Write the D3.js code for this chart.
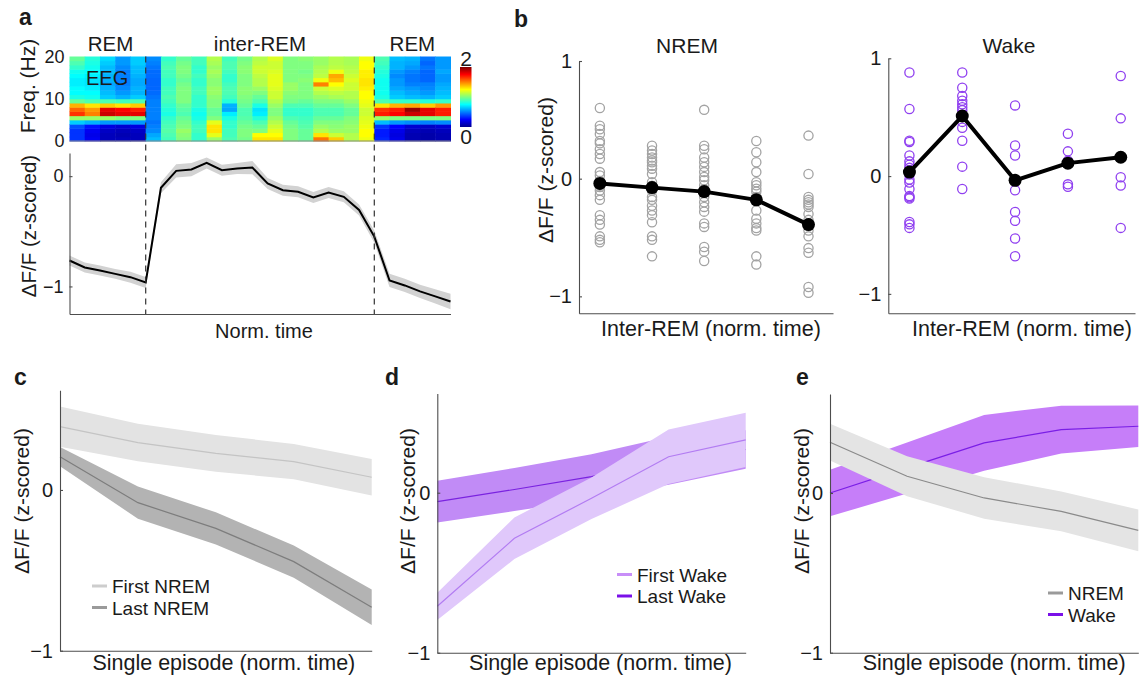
<!DOCTYPE html>
<html><head><meta charset="utf-8">
<script src="https://cdn.jsdelivr.net/npm/d3@7"></script>
<style>
body{margin:0;background:#fff}
svg{display:block}
text{font-family:"Liberation Sans",Arial,Helvetica,sans-serif;fill:#1a1a1a}
</style>
</head><body>
<svg id="fig" width="1142" height="683"></svg>
<script>
// ================= DATA =================
// Panel a: EEG spectrogram, 25 time bins x 20 frequency rows (0-20 Hz, 1 Hz each), bottom row first
const heatFreqTicks = [0, 10, 20];
const heatColorTicks = [0, 2];
const heatColumns = [
  [0.35,0.35,0.35,0.4,0.65,1.05,1.65,1.55,1.4,0.95,0.8,0.75,0.75,0.72,0.72,0.75,0.78,0.85,0.9,0.95],
  [0.22,0.2,0.22,0.28,0.6,1.05,1.5,1.45,1.3,0.9,0.78,0.75,0.72,0.7,0.7,0.72,0.75,0.78,0.8,0.82],
  [0.1,0.1,0.12,0.18,0.55,1.05,1.85,1.8,1.35,0.9,0.65,0.62,0.6,0.58,0.6,0.6,0.62,0.62,0.65,0.68],
  [0.1,0.08,0.1,0.15,0.55,1.0,1.8,1.75,1.3,0.88,0.6,0.55,0.52,0.5,0.5,0.5,0.5,0.52,0.55,0.55],
  [0.1,0.1,0.12,0.18,0.55,1.0,1.8,1.7,1.35,0.9,0.65,0.6,0.6,0.58,0.58,0.6,0.62,0.62,0.65,0.65],
  [0.62,0.58,0.52,0.5,0.48,0.5,0.5,0.5,0.5,0.5,0.48,0.46,0.45,0.45,0.45,0.46,0.46,0.48,0.5,0.52],
  [0.88,0.9,0.92,0.9,0.88,0.85,0.8,0.82,0.85,0.88,0.9,0.88,0.88,0.85,0.85,0.88,0.88,0.9,0.88,0.85],
  [1.0,1.02,1.05,1.0,0.98,0.95,0.9,0.92,0.95,1.0,1.0,1.0,1.0,0.98,0.95,0.98,1.0,1.0,0.98,0.95],
  [0.85,0.85,0.88,0.88,0.85,0.8,0.78,0.8,0.85,0.85,0.85,0.88,0.88,0.85,0.85,0.88,0.85,0.85,0.88,0.88],
  [1.05,1.2,1.3,1.3,1.2,1.0,0.95,0.95,1.0,1.0,1.02,1.05,1.05,1.02,1.02,1.05,1.08,1.05,1.08,1.1],
  [0.9,0.88,0.88,0.85,0.85,0.8,0.72,0.58,0.6,0.82,0.88,0.9,0.9,0.88,0.85,0.85,0.88,0.9,0.9,0.88],
  [0.98,1.0,1.0,0.98,0.95,0.92,0.9,0.9,0.95,0.98,1.0,1.02,1.02,1.0,1.0,1.0,1.02,1.02,1.0,0.98],
  [1.3,1.25,1.0,0.95,0.9,0.82,0.72,0.7,0.8,0.9,0.95,1.0,1.05,1.1,1.1,1.12,1.15,1.15,1.12,1.1],
  [1.3,1.25,1.2,1.15,1.1,1.05,1.0,1.0,1.05,1.1,1.15,1.15,1.18,1.2,1.2,1.2,1.18,1.15,1.15,1.18],
  [1.0,1.0,1.0,0.98,0.95,0.9,0.85,0.85,0.9,0.98,1.0,1.02,1.05,1.05,1.0,1.0,1.0,1.0,1.0,1.0],
  [0.95,0.95,0.95,0.92,0.9,0.88,0.85,0.85,0.9,0.95,1.0,1.0,1.0,1.0,1.02,1.0,0.98,1.0,1.0,1.02],
  [1.52,1.3,1.1,1.05,1.0,0.95,0.9,0.9,0.95,1.0,1.05,1.1,1.15,1.5,1.22,1.12,1.1,1.08,1.05,1.05],
  [1.35,1.15,1.05,1.02,1.0,0.95,0.9,0.9,0.95,1.0,1.08,1.12,1.18,1.25,1.38,1.42,1.22,1.12,1.1,1.1],
  [1.1,1.1,1.05,1.05,1.02,1.0,0.95,0.95,1.0,1.05,1.1,1.1,1.15,1.15,1.18,1.15,1.12,1.1,1.08,1.08],
  [1.22,1.25,1.25,1.22,1.2,1.18,1.15,1.15,1.2,1.22,1.25,1.25,1.28,1.3,1.3,1.28,1.28,1.25,1.25,1.22],
  [0.32,0.3,0.3,0.35,0.62,1.05,1.7,1.65,1.3,0.9,0.8,0.78,0.78,0.78,0.78,0.8,0.82,0.85,0.88,0.9],
  [0.2,0.18,0.2,0.25,0.55,1.0,1.75,1.7,1.4,0.85,0.65,0.62,0.58,0.55,0.55,0.52,0.55,0.6,0.6,0.62],
  [0.08,0.08,0.1,0.15,0.52,1.0,1.85,1.95,1.42,0.85,0.62,0.58,0.55,0.5,0.48,0.48,0.5,0.55,0.58,0.6],
  [0.06,0.06,0.08,0.12,0.5,1.0,1.8,1.8,1.35,0.82,0.6,0.55,0.52,0.5,0.45,0.45,0.45,0.48,0.45,0.48],
  [0.08,0.08,0.1,0.15,0.52,1.0,1.7,1.7,1.45,0.85,0.65,0.62,0.6,0.58,0.55,0.55,0.58,0.55,0.55,0.55]
];
const epochLabels = ["REM", "inter-REM", "REM"];
const epochBounds = [0, 5, 20, 25];
const traceMean = [-0.765,-0.828,-0.855,-0.886,-0.916,-0.964,-0.105,0.048,0.060,0.120,0.054,0.069,0.078,-0.066,-0.127,-0.142,-0.193,-0.148,-0.187,-0.307,-0.548,-0.946,-0.991,-1.045,-1.090,-1.136];
const traceSem  = [0.045,0.045,0.045,0.045,0.05,0.05,0.05,0.06,0.06,0.05,0.05,0.05,0.06,0.05,0.05,0.05,0.05,0.05,0.05,0.05,0.055,0.06,0.06,0.06,0.065,0.07];
const traceTicks = [-1, 0];

// Panel b: inter-REM bins
const interRemBins = [1, 2, 3, 4, 5];
const bTicks = [-1, 0, 1];
const nremMeans = [-0.04, -0.076, -0.11, -0.18, -0.39];
const nremPoints = [
  [0.60,0.45,0.42,0.38,0.32,0.30,0.25,0.21,0.17,0.056,0.028,-0.02,-0.05,-0.07,-0.10,-0.14,-0.18,-0.31,-0.35,-0.39,-0.49,-0.52,-0.54],
  [0.28,0.24,0.21,0.18,0.155,0.14,0.11,0.085,0.04,-0.03,-0.06,-0.10,-0.155,-0.18,-0.23,-0.27,-0.31,-0.37,-0.49,-0.52,-0.66],
  [0.585,0.28,0.25,0.18,0.14,0.10,0.056,0.014,-0.014,-0.056,-0.09,-0.155,-0.20,-0.24,-0.28,-0.38,-0.41,-0.58,-0.62,-0.70],
  [0.32,0.225,0.14,0.056,-0.03,-0.056,-0.085,-0.11,-0.155,-0.27,-0.34,-0.38,-0.42,-0.44,-0.66,-0.73],
  [0.366,0.04,-0.155,-0.18,-0.20,-0.22,-0.24,-0.30,-0.35,-0.44,-0.49,-0.59,-0.63,-0.92,-0.97]
];
const wakeMeans = [0.034, 0.51, -0.036, 0.11, 0.16];
const wakePoints = [
  [0.88,0.57,0.30,0.29,0.175,0.125,0.097,0.07,0.014,-0.03,-0.055,-0.11,-0.17,-0.18,-0.19,-0.39,-0.41,-0.44],
  [0.88,0.75,0.68,0.64,0.61,0.585,0.56,0.52,0.46,0.41,0.30,0.08,-0.11],
  [0.60,0.26,0.175,-0.12,-0.305,-0.38,-0.53,-0.68],
  [0.36,0.21,0.13,-0.07,-0.09],
  [0.85,0.49,-0.01,-0.08,-0.44]
];

// Panels c-e: single-episode profiles (5 normalized time bins)
const episodeBins = [1, 2, 3, 4, 5];
const episodeTicks = [-1, 0];
const firstNremMean = [0.394, 0.295, 0.228, 0.176, 0.079];
const firstNremSem  = [0.125, 0.117, 0.114, 0.11, 0.114];
const lastNremMean  = [0.207, -0.079, -0.239, -0.446, -0.73];
const lastNremSem   = [0.06, 0.10, 0.10, 0.10, 0.11];
const firstWakeMean = [-0.71, -0.285, -0.035, 0.225, 0.33];
const firstWakeSem  = [0.085, 0.13, 0.13, 0.17, 0.17];
const lastWakeMean  = [-0.056, 0.02, 0.10, 0.20, 0.27];
const lastWakeSem   = [0.13, 0.135, 0.14, 0.15, 0.12];
const nremEpMean = [0.318, 0.105, -0.031, -0.115, -0.234];
const nremEpSem  = [0.115, 0.125, 0.13, 0.125, 0.13];
const wakeEpMean = [0.0, 0.157, 0.314, 0.397, 0.418];
const wakeEpSem  = [0.146, 0.16, 0.175, 0.15, 0.13];

// ================= DRAWING =================
const svg = d3.select("#fig");
const FONT = '"Liberation Sans", Arial, Helvetica, sans-serif';
const fmt = v => v < 0 ? "\u2212" + Math.abs(v) : String(v);
const AX = "#4d4d4d";

function styleAxis(g, size) {
  g.attr("font-size", null).attr("font-family", null);
  g.selectAll(".domain").attr("stroke", AX).attr("stroke-width", 1.1);
  g.selectAll(".tick line").attr("stroke", AX).attr("stroke-width", 1.1);
  g.selectAll(".tick text").style("font-size", size + "px").style("font-family", FONT).attr("fill", "#222");
}
function yLabel(x, yc, txt, size) {
  svg.append("text").attr("transform", `translate(${x},${yc}) rotate(-90)`)
    .attr("text-anchor", "middle").style("font-size", size + "px").text(txt);
}
function text(x, y, txt, size, anchor, extra) {
  const t = svg.append("text").attr("x", x).attr("y", y).attr("text-anchor", anchor || "middle")
    .style("font-size", size + "px").text(txt);
  if (extra) extra(t);
  return t;
}
const panelLetter = (x, y, l) => text(x, y, l, 23, "start", t => t.style("font-weight", "bold").attr("fill", "#000"));

// ---------- Panel a ----------
panelLetter(19, 25, "a");
const xA = d3.scaleLinear().domain([0, heatColumns.length]).range([69.5, 450.5]);
const yF = d3.scaleLinear().domain([0, heatColumns[0].length]).range([141, 56.5]);
const jetStops = [0, 0.25, 0.75, 1.25, 1.75, 2];
const jetCols = ["#00008f", "#0000ff", "#00ffff", "#ffff00", "#ff0000", "#800000"];
const jet = d3.scaleLinear().domain(jetStops).range(jetCols).clamp(true);

const cells = heatColumns.flatMap((col, c) => col.map((v, r) => ({c, r, v})));
svg.append("g").selectAll("rect").data(cells).join("rect")
  .attr("x", d => xA(d.c)).attr("y", d => yF(d.r + 1))
  .attr("width", xA(1) - xA(0) + 0.5).attr("height", yF(0) - yF(1) + 0.5)
  .attr("fill", d => jet(d.v));
svg.append("line").attr("x1", xA(0)).attr("x2", xA(25)).attr("y1", yF(0)).attr("y2", yF(0))
  .attr("stroke", "#888").attr("stroke-width", 1);

const gHF = svg.append("g").attr("transform", `translate(${xA(0)},0)`)
  .call(d3.axisLeft(yF).tickValues(heatFreqTicks).tickSize(0).tickPadding(5));
gHF.select(".domain").remove();
styleAxis(gHF, 18);
yLabel(35, 86, "Freq. (Hz)", 21);
text(86, 85, "EEG", 20, "start", t => t.attr("fill", "#111"));

epochLabels.forEach((l, i) => {
  text(xA((epochBounds[i] + epochBounds[i + 1]) / 2) + (i === 0 ? 3 : 0), 51, l, 20.5);
});

// colorbar
const cb = d3.scaleLinear().domain([0, 2]).range([127, 67]);
const grad = svg.append("defs").append("linearGradient").attr("id", "jetgrad")
  .attr("x1", 0).attr("x2", 0).attr("y1", 1).attr("y2", 0);
grad.selectAll("stop").data(jetStops).join("stop")
  .attr("offset", d => d / 2).attr("stop-color", d => jet(d));
svg.append("rect").attr("x", 460).attr("y", cb(2)).attr("width", 11.5).attr("height", cb(0) - cb(2))
  .attr("fill", "url(#jetgrad)");
heatColorTicks.forEach(v => text(466, v === 2 ? cb(v) - 1 : cb(v) + 17, String(v), 21));

// trace
const yA = d3.scaleLinear().domain([-1.25, 0.21]).range([314, 153]);
const areaA = d3.area().x((d, i) => xA(i)).y0((d, i) => yA(d - traceSem[i])).y1((d, i) => yA(d + traceSem[i]));
svg.append("path").datum(traceMean).attr("d", areaA).attr("fill", "#d2d2d2");
svg.append("path").datum(traceMean).attr("d", d3.line().x((d, i) => xA(i)).y(d => yA(d)))
  .attr("fill", "none").attr("stroke", "#000").attr("stroke-width", 2);
const gAy = svg.append("g").attr("transform", `translate(${xA(0)},0)`)
  .call(d3.axisLeft(yA).tickValues(traceTicks).tickFormat(fmt).tickSizeInner(-3).tickSizeOuter(0).tickPadding(6));
styleAxis(gAy, 18);
const gAx = svg.append("g").attr("transform", `translate(0,${yA.range()[0]})`)
  .call(d3.axisBottom(xA).tickValues([]).tickSizeOuter(0));
styleAxis(gAx, 18);
// REM boundaries
[epochBounds[1], epochBounds[2]].forEach(b => {
  svg.append("line").attr("x1", xA(b)).attr("x2", xA(b)).attr("y1", yF(20)).attr("y2", yA.range()[0])
    .attr("stroke", "#333").attr("stroke-width", 1.2).attr("stroke-dasharray", "6,5");
});
yLabel(36, 226, "\u0394F/F (z-scored)", 20.5);
text(xA(12.5) + 4, 338, "Norm. time", 20);

// ---------- Panel b ----------
panelLetter(514, 27, "b");
function scatterPanel(cfg) {
  const x = d3.scaleLinear().domain(cfg.xd).range(cfg.xr);
  const y = d3.scaleLinear().domain(cfg.yd).range(cfg.yr);
  const g = svg.append("g");
  const pts = cfg.points.flatMap((col, i) => col.map(v => ({bin: interRemBins[i], v})));
  g.selectAll("circle.pt").data(pts).join("circle").attr("class", "pt")
    .attr("cx", d => x(d.bin)).attr("cy", d => y(d.v)).attr("r", 4.6)
    .attr("fill", "none").attr("stroke", cfg.color).attr("stroke-width", 1.3);
  g.append("path").datum(cfg.means).attr("d", d3.line().x((d, i) => x(interRemBins[i])).y(d => y(d)))
    .attr("fill", "none").attr("stroke", "#000").attr("stroke-width", 4).attr("stroke-linejoin", "round");
  g.selectAll("circle.mean").data(cfg.means).join("circle").attr("class", "mean")
    .attr("cx", (d, i) => x(interRemBins[i])).attr("cy", d => y(d)).attr("r", 6.5).attr("fill", "#000");
  const gy = svg.append("g").attr("transform", `translate(${cfg.xr[0]},0)`)
    .call(d3.axisLeft(y).tickValues(bTicks).tickFormat(fmt).tickSizeInner(-3).tickSizeOuter(0).tickPadding(7));
  styleAxis(gy, 20);
  const gx = svg.append("g").attr("transform", `translate(0,${cfg.yr[0]})`)
    .call(d3.axisBottom(x).tickValues([]).tickSizeOuter(0));
  styleAxis(gx, 20);
  text(cfg.titleX, 53, cfg.title, 21);
  text(cfg.labelX, 336, "Inter-REM (norm. time)", 21.5);
}
scatterPanel({xd: [0.6, 5.47], xr: [579, 833], yd: [-1.144, 1], yr: [313.3, 61],
  points: nremPoints, means: nremMeans, color: "#a3a3a3", title: "NREM", titleX: 687, labelX: 711});
scatterPanel({xd: [0.6, 5.27], xr: [888.3, 1135], yd: [-1.165, 1], yr: [313.3, 58.3],
  points: wakePoints, means: wakeMeans, color: "#9040f0", title: "Wake", titleX: 1009, labelX: 1022});
yLabel(553, 170, "\u0394F/F (z-scored)", 21);

// ---------- Panels c-e ----------
const episodeYDomain = [-1, 0.62];
function episodePanel(cfg) {
  const x = d3.scaleLinear().domain([episodeBins[0], episodeBins[episodeBins.length - 1]]).range(cfg.xr);
  const y = d3.scaleLinear().domain(episodeYDomain).range(cfg.yr);
  const g = svg.append("g");
  cfg.series.forEach(s => {
    const area = d3.area().x((d, i) => x(episodeBins[i]))
      .y0((d, i) => y(d - s.sem[i])).y1((d, i) => y(d + s.sem[i]));
    g.append("path").datum(s.mean).attr("d", area).attr("fill", s.band);
    g.append("path").datum(s.mean).attr("d", d3.line().x((d, i) => x(episodeBins[i])).y(d => y(d)))
      .attr("fill", "none").attr("stroke", s.line).attr("stroke-width", 1.2);
  });
  const gy = svg.append("g").attr("transform", `translate(${cfg.xr[0]},0)`)
    .call(d3.axisLeft(y).tickValues(episodeTicks).tickFormat(fmt).tickSizeInner(-3).tickSizeOuter(0).tickPadding(7));
  styleAxis(gy, 20);
  const gx = svg.append("g").attr("transform", `translate(0,${cfg.yr[0]})`)
    .call(d3.axisBottom(x).tickValues([]).tickSizeOuter(0));
  styleAxis(gx, 20);
  yLabel(cfg.ylabX, 501, "\u0394F/F (z-scored)", 21);
  text((cfg.xr[0] + cfg.xr[1]) / 2 + cfg.xlabDx, 670, "Single episode (norm. time)", 21.5);
  cfg.legend.forEach((l, i) => {
    const yy = cfg.legY + i * 21.5;
    svg.append("line").attr("x1", cfg.legX).attr("x2", cfg.legX + 15).attr("y1", yy).attr("y2", yy)
      .attr("stroke", l.color).attr("stroke-width", 3);
    text(cfg.legX + 20, yy + 7, l.name, 19, "start");
  });
}
panelLetter(14, 385, "c");
episodePanel({xr: [60, 371.7], yr: [650.7, 390.3], ylabX: 29, xlabDx: 8,
  series: [
    {mean: firstNremMean, sem: firstNremSem, band: "#e3e3e3", line: "#c4c4c4"},
    {mean: lastNremMean, sem: lastNremSem, band: "#b3b3b3", line: "#7d7d7d"}
  ],
  legX: 92, legY: 586,
  legend: [{name: "First NREM", color: "#cdcdcd"}, {name: "Last NREM", color: "#9a9a9a"}]});
panelLetter(385, 385, "d");
episodePanel({xr: [437.3, 745.7], yr: [652.7, 393.5], ylabX: 415, xlabDx: 9,
  series: [
    {mean: lastWakeMean, sem: lastWakeSem, band: "#c18bf6", line: "#7a22e0"},
    {mean: firstWakeMean, sem: firstWakeSem, band: "#e0c8fb", line: "#b27cf2"}
  ],
  legX: 617, legY: 574.5,
  legend: [{name: "First Wake", color: "#c88ef8"}, {name: "Last Wake", color: "#7a10e8"}]});
panelLetter(796, 385, "e");
episodePanel({xr: [830, 1138.3], yr: [652.7, 394], ylabX: 809, xlabDx: 10,
  series: [
    {mean: wakeEpMean, sem: wakeEpSem, band: "#c67ef9", line: "#7a1ee6"},
    {mean: nremEpMean, sem: nremEpSem, band: "#e4e4e4", line: "#8a8a8a"}
  ],
  legX: 1048, legY: 593,
  legend: [{name: "NREM", color: "#9a9a9a"}, {name: "Wake", color: "#7a10e8"}]});
</script>
</body></html>
